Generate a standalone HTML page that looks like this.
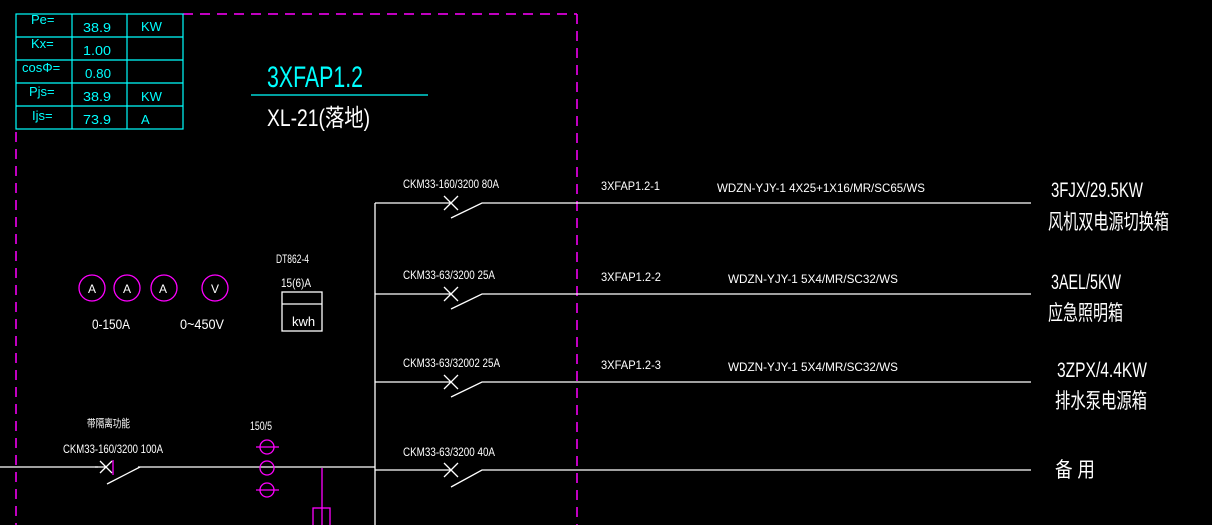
<!DOCTYPE html>
<html><head><meta charset="utf-8"><style>
html,body{margin:0;padding:0;background:#000;}
svg{display:block}
text{font-family:"Liberation Sans","Noto Sans CJK SC",sans-serif;fill:#fff}
.c{fill:#00ffff}
</style></head><body>
<svg width="1212" height="525" viewBox="0 0 1212 525" xmlns="http://www.w3.org/2000/svg">
<rect width="1212" height="525" fill="#000"/>
<!-- magenta dashed frame -->
<g stroke="#ff00ff" stroke-width="1.5" fill="none" stroke-dasharray="10,7">
<line x1="183" y1="14" x2="577" y2="14"/>
<line x1="577" y1="14" x2="577" y2="525"/>
<line x1="16" y1="132" x2="16" y2="525"/>
</g>
<!-- table -->
<g stroke="#00ffff" stroke-width="1.2" fill="none">
<rect x="16" y="14" width="167" height="115"/>
<line x1="16" y1="37" x2="183" y2="37"/><line x1="16" y1="60" x2="183" y2="60"/>
<line x1="16" y1="83" x2="183" y2="83"/><line x1="16" y1="106" x2="183" y2="106"/>
<line x1="72" y1="14" x2="72" y2="129"/><line x1="127" y1="14" x2="127" y2="129"/>
</g>
<g class="c" font-size="13">
<text class="c" x="31" y="24">Pe=</text><text class="c" x="83" y="32" textLength="28" lengthAdjust="spacingAndGlyphs">38.9</text><text class="c" x="141" y="31">KW</text>
<text class="c" x="31" y="48">Kx=</text><text class="c" x="83" y="55" textLength="28" lengthAdjust="spacingAndGlyphs">1.00</text>
<text class="c" x="22" y="72">cosΦ=</text><text class="c" x="85" y="78" textLength="26" lengthAdjust="spacingAndGlyphs">0.80</text>
<text class="c" x="29" y="96">Pjs=</text><text class="c" x="83" y="101" textLength="28" lengthAdjust="spacingAndGlyphs">38.9</text><text class="c" x="141" y="101">KW</text>
<text class="c" x="32" y="120">Ijs=</text><text class="c" x="83" y="124" textLength="28" lengthAdjust="spacingAndGlyphs">73.9</text><text class="c" x="141" y="124">A</text>
</g>
<text class="c" x="267" y="87" font-size="30" textLength="96" lengthAdjust="spacingAndGlyphs">3XFAP1.2</text>
<line x1="251" y1="95" x2="428" y2="95" stroke="#00ffff" stroke-width="1.2"/>
<text x="267" y="126" font-size="24" textLength="103" lengthAdjust="spacingAndGlyphs">XL-21(落地)</text>
<!-- bus -->
<g stroke="#fff" stroke-width="1.3" fill="none">
<line x1="375" y1="203" x2="375" y2="525"/>
<line x1="0" y1="467" x2="375" y2="467" />
</g>
<!-- branches -->
<g stroke="#fff" stroke-width="1.3" fill="none">
<path d="M375 203H451M444 196l14 14M458 196l-14 14M451 218L482 203H1031"/>
<path d="M375 294H451M444 287l14 14M458 287l-14 14M451 309L482 294H1031"/>
<path d="M375 382H451M444 375l14 14M458 375l-14 14M451 397L482 382H1031"/>
<path d="M375 470H451M444 463l14 14M458 463l-14 14M451 487L482 470H1031"/>
</g>
<!-- main breaker -->
<rect x="98" y="462" width="40" height="20" fill="#000"/>
<g stroke="#fff" stroke-width="1.3" fill="none">
<path d="M95 467H107M100 461l12 12M112 461l-12 12M107 484L140 467"/>
<rect x="282" y="292" width="40" height="39"/><line x1="282" y1="304" x2="322" y2="304"/>
</g>
<line x1="113" y1="460" x2="113" y2="475" stroke="#ff00ff" stroke-width="1.3"/>
<!-- CTs -->
<g stroke="#ff00ff" stroke-width="1.3" fill="none">
<circle cx="267" cy="447" r="7"/><line x1="256" y1="447" x2="279" y2="447"/>
<circle cx="267" cy="468" r="7"/>
<circle cx="267" cy="490" r="7"/><line x1="256" y1="490" x2="279" y2="490"/>
<line x1="322" y1="468" x2="322" y2="525"/>
<rect x="313" y="508" width="17" height="18"/>
<circle cx="92" cy="288" r="13"/><circle cx="127" cy="288" r="13"/><circle cx="164" cy="288" r="13"/><circle cx="215" cy="288" r="13"/>
</g>
<g font-size="12">
<text x="88" y="293">A</text><text x="123" y="293">A</text><text x="159" y="293">A</text><text x="211" y="293">V</text>
<text x="92" y="329" font-size="14" textLength="38" lengthAdjust="spacingAndGlyphs">0-150A</text>
<text x="180" y="329" font-size="14" textLength="44" lengthAdjust="spacingAndGlyphs">0~450V</text>
<text x="276" y="263" textLength="33" lengthAdjust="spacingAndGlyphs">DT862-4</text>
<text x="281" y="287" textLength="30" lengthAdjust="spacingAndGlyphs">15(6)A</text>
<text x="292" y="326" font-size="13">kwh</text>
<text x="87" y="427" font-size="11" textLength="43" lengthAdjust="spacingAndGlyphs">带隔离功能</text>
<text x="63" y="453" textLength="100" lengthAdjust="spacingAndGlyphs">CKM33-160/3200 100A</text>
<text x="250" y="430" textLength="22" lengthAdjust="spacingAndGlyphs">150/5</text>
<text x="403" y="188" textLength="96" lengthAdjust="spacingAndGlyphs">CKM33-160/3200 80A</text>
<text x="403" y="279" textLength="92" lengthAdjust="spacingAndGlyphs">CKM33-63/3200 25A</text>
<text x="403" y="367" textLength="97" lengthAdjust="spacingAndGlyphs">CKM33-63/32002 25A</text>
<text x="403" y="456" textLength="92" lengthAdjust="spacingAndGlyphs">CKM33-63/3200 40A</text>
<text x="601" y="190" textLength="59" lengthAdjust="spacingAndGlyphs">3XFAP1.2-1</text>
<text x="601" y="281" textLength="60" lengthAdjust="spacingAndGlyphs">3XFAP1.2-2</text>
<text x="601" y="369" textLength="60" lengthAdjust="spacingAndGlyphs">3XFAP1.2-3</text>
<text x="717" y="192" textLength="208" lengthAdjust="spacingAndGlyphs">WDZN-YJY-1 4X25+1X16/MR/SC65/WS</text>
<text x="728" y="283" textLength="170" lengthAdjust="spacingAndGlyphs">WDZN-YJY-1 5X4/MR/SC32/WS</text>
<text x="728" y="371" textLength="170" lengthAdjust="spacingAndGlyphs">WDZN-YJY-1 5X4/MR/SC32/WS</text>
</g>
<g font-size="21">
<text x="1051" y="197" textLength="92" lengthAdjust="spacingAndGlyphs">3FJX/29.5KW</text>
<text x="1048" y="229" textLength="121" lengthAdjust="spacingAndGlyphs">风机双电源切换箱</text>
<text x="1051" y="289" textLength="70" lengthAdjust="spacingAndGlyphs">3AEL/5KW</text>
<text x="1048" y="320" textLength="75" lengthAdjust="spacingAndGlyphs">应急照明箱</text>
<text x="1057" y="377" textLength="90" lengthAdjust="spacingAndGlyphs">3ZPX/4.4KW</text>
<text x="1055" y="408" textLength="92" lengthAdjust="spacingAndGlyphs">排水泵电源箱</text>
<text x="1055" y="477" textLength="40" lengthAdjust="spacingAndGlyphs">备 用</text>
</g>
</svg>
</body></html>
